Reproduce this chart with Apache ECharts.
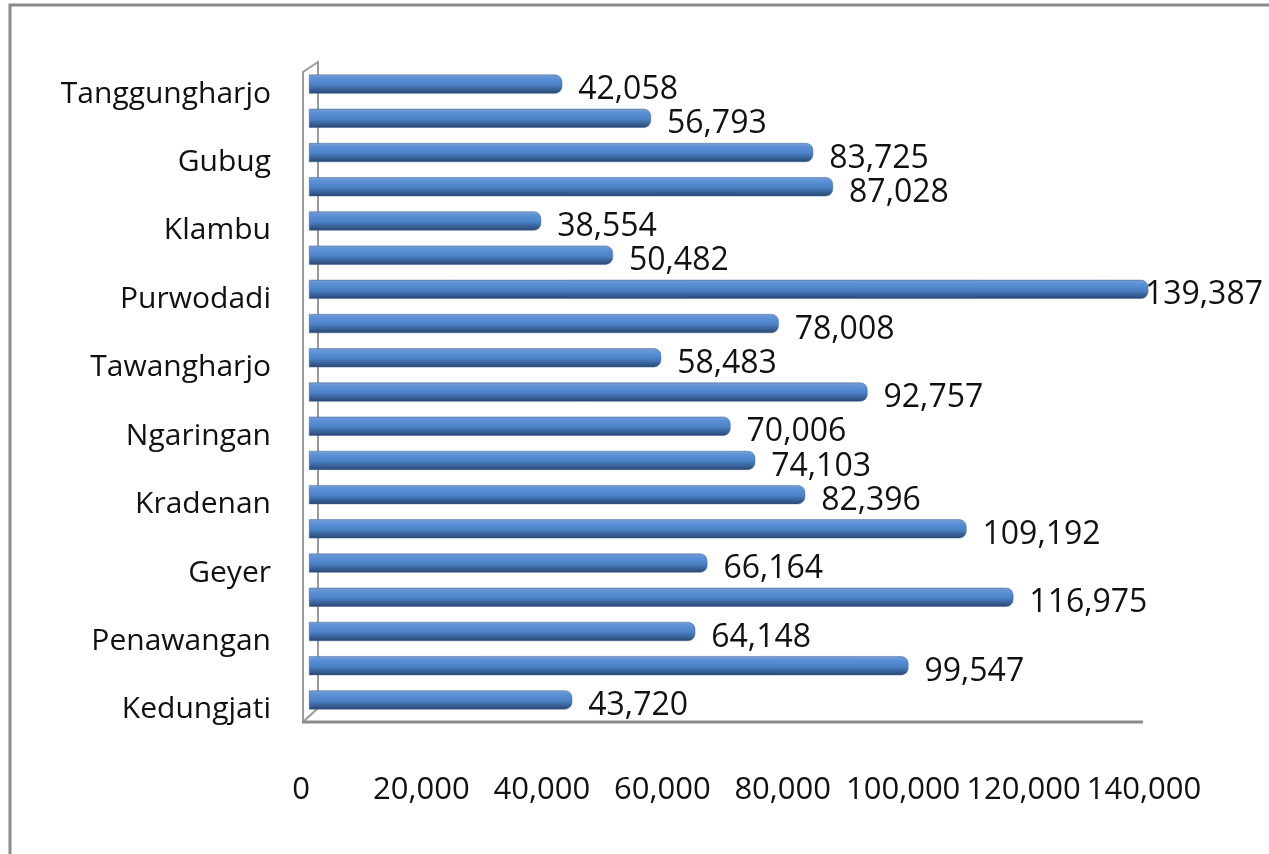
<!DOCTYPE html>
<html>
<head>
<meta charset="utf-8">
<script src="https://cdn.jsdelivr.net/npm/echarts@6/dist/echarts.min.js"></script>
<style>
  html, body { margin: 0; padding: 0; background: #fff; }
  #chart { width: 1269px; height: 854px; }
</style>
</head>
<body>
<div id="chart"></div>
<script>
// kecamatan, top to bottom (only every other one is labelled in the original)
const categories = [
    'Tanggungharjo', 'Tegowanu', 'Gubug', 'Godong', 'Klambu', 'Brati',
    'Purwodadi', 'Grobogan', 'Tawangharjo', 'Wirosari', 'Ngaringan', 'Gabus',
    'Kradenan', 'Pulokulon', 'Geyer', 'Toroh', 'Penawangan', 'Karangrayung',
    'Kedungjati'
];
const values = [
    42058, 56793, 83725, 87028, 38554, 50482,
    139387, 78008, 58483, 92757, 70006, 74103,
    82396, 109192, 66164, 116975, 64148, 99547,
    43720
];
const xTicks = { min: 0, max: 140000, interval: 20000 };

const fmt = v => Number(v).toLocaleString('en-US');
const FONT = '"Open Sans", "Noto Sans", sans-serif';
const W = 1269;

const chart = echarts.init(document.getElementById('chart'));

// cylinder-ish shading like the old office 3D bars
const barColor = new echarts.graphic.LinearGradient(0, 0, 0, 1, [
    { offset: 0, color: '#7a9fd0' },
    { offset: 0.2, color: '#5c91d8' },
    { offset: 0.55, color: '#4b81c5' },
    { offset: 0.85, color: '#34598c' },
    { offset: 1, color: '#27456e' }
]);

const wallStyle = { fill: 'none', stroke: '#9a9a9a', lineWidth: 2 };

const option = {
    backgroundColor: '#fff',
    animation: false,
    grid: {
        left: 309,
        right: 117,
        top: 67,
        bottom: 137,
        containLabel: false
    },
    xAxis: {
        type: 'value',
        min: xTicks.min,
        max: xTicks.max,
        interval: xTicks.interval,
        offset: 6,
        splitLine: { show: false },
        axisTick: { show: false },
        axisLine: { show: false },
        axisLabel: {
            margin: 52,
            fontFamily: FONT,
            fontSize: 31,
            color: '#111',
            padding: [0, 16, 0, 0],
            formatter: fmt
        }
    },
    yAxis: {
        type: 'category',
        inverse: true,
        data: categories,
        axisTick: { show: false },
        axisLine: { show: false },
        axisLabel: {
            interval: 1,
            margin: 38,
            fontFamily: FONT,
            fontSize: 30,
            color: '#111',
            verticalAlign: 'top',
            lineHeight: 20
        }
    },
    series: [{
        type: 'bar',
        data: values,
        barWidth: 19,
        itemStyle: {
            color: barColor,
            borderRadius: [0, 7, 7, 0],
            borderColor: '#3a6297',
            borderWidth: 0.5
        },
        label: {
            show: true,
            position: 'right',
            distance: 16,
            fontFamily: FONT,
            fontSize: 32,
            color: '#111',
            formatter: p => fmt(p.value)
        },
        // push labels a little down, and keep the longest one inside the picture
        labelLayout: p => {
            const r = p.labelRect;
            const out = { dy: 6 };
            if (r.x + r.width > W - 6) {
                out.dx = (W - 6) - (r.x + r.width);
            }
            return out;
        }
    }],
    graphic: [
        // outer frame (right and bottom edges fall outside the picture)
        {
            type: 'rect',
            z: -10,
            shape: { x: 10, y: 5, width: 1300, height: 900 },
            style: { fill: 'none', stroke: '#8a8a8a', lineWidth: 3 },
            silent: true
        },
        // 3D side wall of the plot
        {
            type: 'polyline',
            z: -10,
            shape: { points: [[303, 723], [303, 72], [318, 62], [318, 708], [304, 721]] },
            style: wallStyle,
            silent: true
        },
        // floor edge
        {
            type: 'line',
            z: -10,
            shape: { x1: 302, y1: 722, x2: 1143, y2: 722 },
            style: { stroke: '#8c8c8c', lineWidth: 3 },
            silent: true
        }
    ]
};

chart.setOption(option);
window.addEventListener('resize', () => chart.resize());
</script>
</body>
</html>
